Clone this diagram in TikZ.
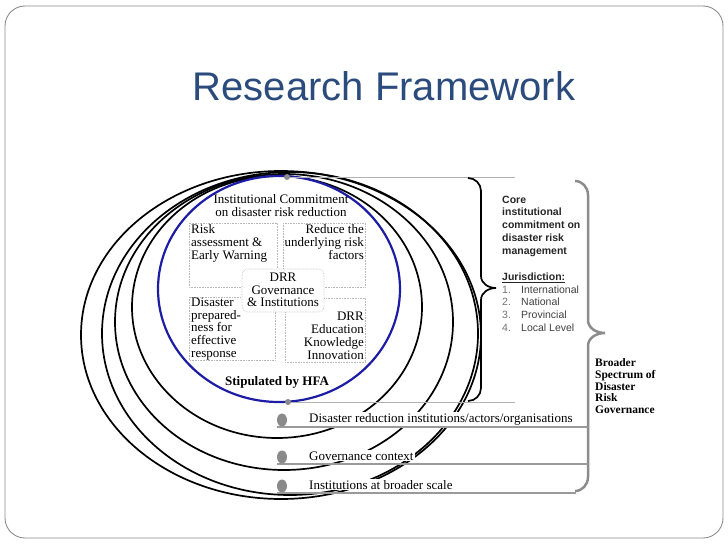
\documentclass[tikz,border=0pt]{standalone}
\usepackage{fontspec}
\setmainfont{Liberation Serif}
\newfontfamily\slidesans{Liberation Sans}
\usepackage{tikz}
\usetikzlibrary{shapes.geometric}

\definecolor{titleblue}{HTML}{2A4B7C}
\definecolor{ringblue}{RGB}{28,28,165}
\definecolor{framegrey}{HTML}{8C8C8C}
\definecolor{rowgrey}{HTML}{9A9A9A}
\definecolor{dotgrey}{HTML}{8A8A8A}
\definecolor{celldots}{HTML}{B8B8B8}

\newcommand{\lvlitem}[2]{\makebox[19pt][l]{\color{black!55}#1}#2}

\begin{document}
\begin{tikzpicture}[x=1pt, y=-1pt,
    ring/.style={draw=black, line width=1.7pt},
    cell/.style={draw=celldots, densely dotted, line width=0.6pt},
    serifthirteen/.style={font=\fontsize{13}{12.8}\selectfont, inner sep=0pt},
    rowtext/.style={font=\fontsize{13}{13}\selectfont, fill=white, inner sep=1pt, anchor=base west},
    rowline/.style={draw=rowgrey, line width=2pt},
    sidetext/.style={font=\slidesans\fontsize{10.5}{12.8}\selectfont, align=left, anchor=base west, inner sep=0pt}
]
    \useasboundingbox (0,0) rectangle (728,546);

    % Slide frame and title
    \draw[framegrey, line width=0.9pt, rounded corners=20pt] (5,6) rectangle (723,538);
    \node[font=\slidesans\fontsize{40}{40}\selectfont, text=titleblue, anchor=base] (title) at (384,100) {Research Framework};

    % Nested rings
    \draw[ring] (281,335) ellipse [x radius=200pt, y radius=164pt];
    \draw[ring] (290,333.5) ellipse [x radius=188pt, y radius=161.5pt];
    \draw[ring] (284,322) ellipse [x radius=169pt, y radius=148pt];
    \draw[ring] (277,307) ellipse [x radius=145pt, y radius=131pt];
    \draw[ringblue, line width=2.2pt] (279,289) ellipse [x radius=121pt, y radius=113pt];

    % Core commitment inside the blue ring (multi-line nodes sit on their last baseline)
    \node[serifthirteen, font=\fontsize{13}{12.2}\selectfont, align=center, anchor=base] (commit) at (281,216) {Institutional Commitment\\on disaster risk reduction};

    \draw[cell] (189,223) rectangle (277,287);
    \draw[cell] (283,223) rectangle (365,287);
    \draw[cell] (189,297) rectangle (275,360);
    \draw[cell] (285,298) rectangle (365,362);

    \node[serifthirteen, align=left, anchor=base west] (risk) at (191,259) {Risk\\assessment \&\\Early Warning};
    \node[serifthirteen, align=right, anchor=base east] (reduce) at (364,259) {Reduce the\\underlying risk\\factors};
    \node[serifthirteen, align=left, anchor=base west] (prepare) at (191,357.5) {Disaster\\prepared-\\ness for\\effective\\response};
    \node[serifthirteen, align=right, anchor=base east] (educate) at (364,359) {DRR\\Education\\Knowledge\\Innovation};

    \draw[cell, fill=white, rounded corners=6pt] (242,269) rectangle (324,312);
    \node[serifthirteen, font=\fontsize{13}{12.5}\selectfont, align=center, anchor=base] (govern) at (283,306.5) {DRR\\Governance\\\& Institutions};

    \node[font=\bfseries\fontsize{13}{13}\selectfont, inner sep=0pt, anchor=base] (hfa) at (277,385) {Stipulated by HFA};

    % Extent of the core bracket
    \coordinate (coretop) at (515,177);
    \coordinate (corebot) at (515,402);
    \node[circle, fill=dotgrey, inner sep=0pt, minimum size=6pt] (topdot) at (287,177) {};
    \node[circle, fill=dotgrey, inner sep=0pt, minimum size=6pt] (botdot) at (288,402) {};
    \draw[black!30, line width=0.6pt] (topdot) -- (coretop);
    \draw[black!30, line width=0.6pt] (botdot) -- (corebot);

    % Braces
    \draw[line width=1.7pt] (468,178) to[out=0,in=90] (481,191) -- (481,276)
        to[out=-90,in=180] (496,288) to[out=180,in=90] (481,300) -- (481,388)
        to[out=-90,in=0] (468,401);
    \draw[framegrey, line width=2.5pt] (575,181) to[out=0,in=90] (588,195) -- (588,320)
        to[out=-90,in=180] (605,333) to[out=180,in=90] (588,346) -- (588,477)
        to[out=-90,in=0] (575,491);

    % Broader scale rows
    \node[rowtext] (actors) at (308,422) {Disaster reduction institutions/actors/organisations};
    \node[rowtext] (context) at (308,460) {Governance context};
    \node[rowtext] (broader) at (308,489) {Institutions at broader scale};

    \coordinate (lineonew) at (277,427);
    \coordinate (lineonee) at (588,427);
    \coordinate (linetwow) at (277,464);
    \coordinate (linetwoe) at (588,464);
    \coordinate (linethreew) at (277,493);
    \coordinate (linethreee) at (576,493);
    \draw[rowline] (lineonew) -- (lineonee);
    \draw[rowline] (linetwow) -- (linetwoe);
    \draw[rowline] (linethreew) -- (linethreee);

    \node[ellipse, fill=dotgrey, inner sep=0pt, minimum width=10pt, minimum height=13pt] (dotone) at (282,420) {};
    \node[ellipse, fill=dotgrey, inner sep=0pt, minimum width=10pt, minimum height=13pt] (dottwo) at (282,457) {};
    \node[ellipse, fill=dotgrey, inner sep=0pt, minimum width=10pt, minimum height=13pt] (dotthree) at (282,486) {};

    % Side notes
    \node[sidetext, font=\slidesans\bfseries\fontsize{10.5}{12.9}\selectfont, text=black!85] (core) at (502,254.6) {Core\\institutional\\commitment on\\disaster risk\\management};
    \node[sidetext, font=\slidesans\bfseries\fontsize{10.5}{12.9}\selectfont, text=black!85] (jurisdiction) at (502,280.5) {\underline{Jurisdiction:}};
    \node[sidetext, text=black!75] (levels) at (502,331.4) {\lvlitem{1.}{International}\\\lvlitem{2.}{National}\\\lvlitem{3.}{Provincial}\\\lvlitem{4.}{Local Level}};

    \node[sidetext, font=\bfseries\fontsize{11.5}{11.8}\selectfont] (spectrum) at (595,413.7) {Broader\\Spectrum of\\Disaster\\Risk\\Governance};

\end{tikzpicture}
\end{document}
